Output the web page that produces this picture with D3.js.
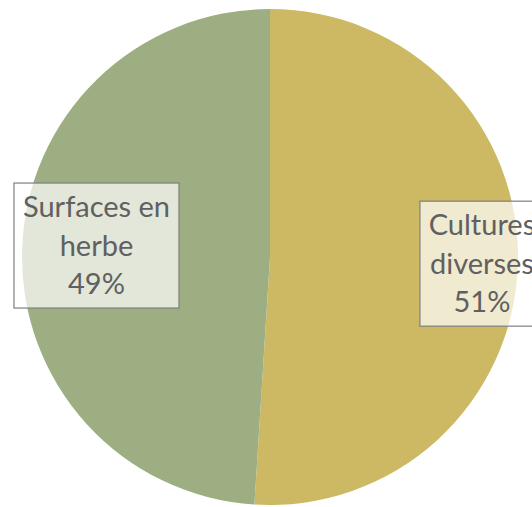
<!DOCTYPE html>
<html>
<head>
<meta charset="utf-8">
<script src="https://cdn.jsdelivr.net/npm/d3@7"></script>
<style>
  body { margin: 0; background: #fff; }
  text { font-family: Lato, "Open Sans", sans-serif; }
</style>
</head>
<body>
<svg id="chart" width="532" height="507"></svg>
<script>
// values
const categories = ["Cultures diverses", "Surfaces en herbe"];
const values = [51, 49];
const labelLines = [["Cultures", "diverses", "51%"], ["Surfaces en", "herbe", "49%"]];
const colors = ["#CDB864", "#9DAF82"];

const width = 532, height = 507;
const cx = 270, cy = 257, radius = 248;

const svg = d3.select("#chart");
const g = svg.append("g").attr("transform", `translate(${cx},${cy})`);

const pie = d3.pie().sort(null).value(d => d);
const arcs = pie(values);

const arc = d3.arc().innerRadius(0).outerRadius(radius);

g.selectAll("path.slice")
  .data(arcs)
  .enter()
  .append("path")
  .attr("class", "slice")
  .attr("d", arc)
  .attr("fill", (d, i) => colors[i]);

// label boxes (excel "best fit" puts them near the rim)
const labelRadius = [0.855, 0.70];
const labelDy = [0, -6];
const boxW = [124, 165], boxH = 125;

const lab = g.selectAll("g.lab")
  .data(arcs)
  .enter()
  .append("g")
  .attr("class", "lab")
  .attr("transform", (d, i) => {
    let a = (d.startAngle + d.endAngle) / 2;
    let r = radius * labelRadius[i];
    return `translate(${Math.sin(a) * r},${-Math.cos(a) * r + labelDy[i]})`;
  });

lab.append("rect")
  .attr("x", (d, i) => -boxW[i] / 2)
  .attr("y", -boxH / 2)
  .attr("width", (d, i) => boxW[i])
  .attr("height", boxH)
  .attr("fill", "#fff")
  .attr("fill-opacity", 0.7)
  .attr("stroke", "#7f7f7f")
  .attr("stroke-width", 1.2);

lab.each(function(d, i) {
  d3.select(this).selectAll("text")
    .data(labelLines[i])
    .enter()
    .append("text")
    .attr("text-anchor", "middle")
    .attr("y", (t, j) => -boxH / 2 + 34 + j * 38.5)
    .attr("fill", "#606060")
    .attr("font-size", 29)
    .text(t => t);
});
</script>
</body>
</html>
